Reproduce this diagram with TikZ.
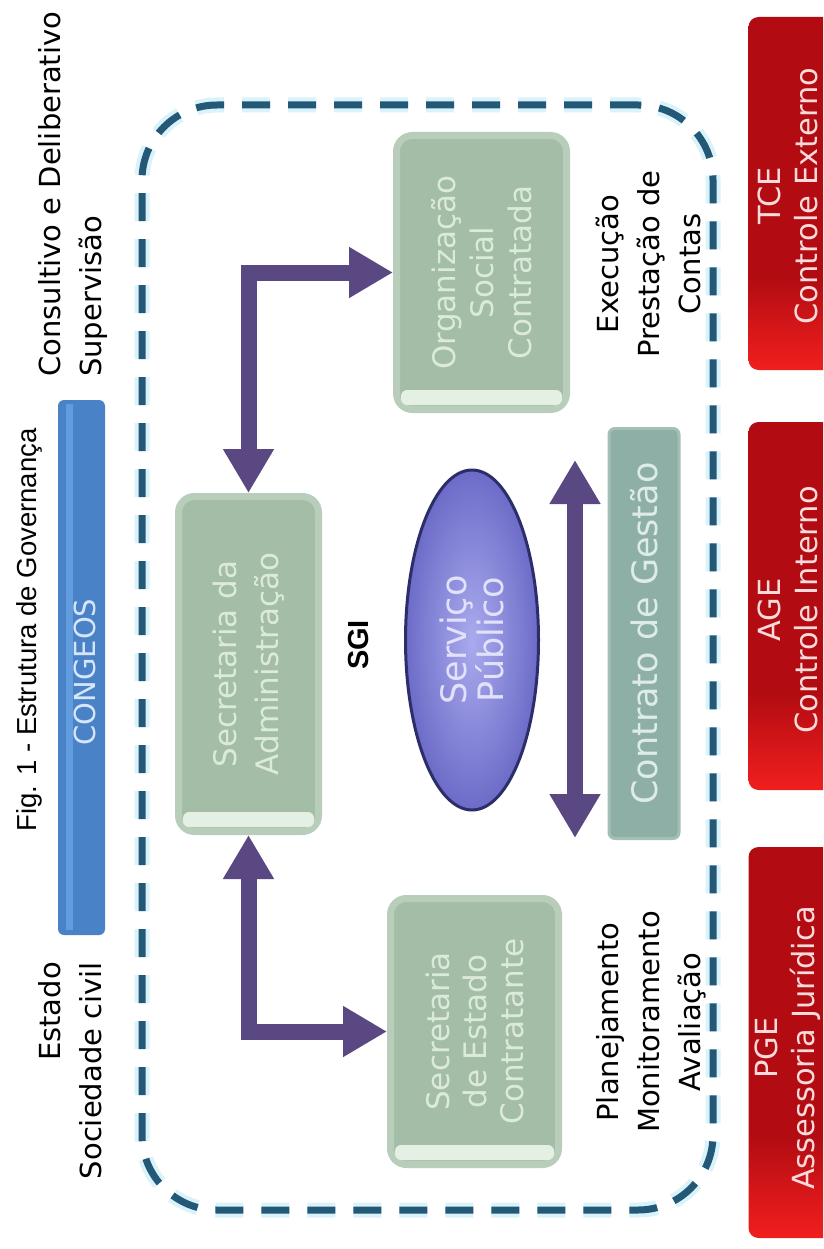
\documentclass[tikz,border=0pt]{standalone}
\usepackage{fontspec}
\setmainfont{DejaVu Sans}
\newfontfamily\arialf{Liberation Sans}
\usetikzlibrary{shapes.geometric,arrows.meta,calc}
\definecolor{dashblue}{RGB}{35,88,118}
\definecolor{glowc}{RGB}{218,242,250}
\definecolor{greenfill}{RGB}{164,189,167}
\definecolor{greenedge}{RGB}{184,206,186}
\definecolor{greenhi}{RGB}{228,240,228}
\definecolor{greentext}{RGB}{220,234,220}
\definecolor{contrfill}{RGB}{141,175,165}
\definecolor{contrtext}{RGB}{222,236,232}
\definecolor{purparr}{RGB}{90,72,130}
\definecolor{ellfill}{RGB}{108,108,200}
\definecolor{ellin}{RGB}{170,170,238}
\definecolor{elledge}{RGB}{45,45,105}
\definecolor{elltext}{RGB}{225,225,250}
\definecolor{congfill}{RGB}{74,130,200}
\definecolor{congstripe}{RGB}{96,156,222}
\definecolor{congtext}{RGB}{214,230,250}
\definecolor{reddark}{RGB}{178,12,18}
\definecolor{redbright}{RGB}{240,30,30}
\definecolor{redtext}{RGB}{250,218,218}
\pgfdeclareverticalshading{redglow}{100bp}{color(0bp)=(redbright); color(25bp)=(redbright); color(30bp)=(redbright!65!reddark); color(38bp)=(reddark); color(100bp)=(reddark)}
\begin{document}
\begin{tikzpicture}[x=1pt,y=1pt,
  lbl/.style={rotate=90, inner sep=0pt, font=\fontsize{29}{41}\selectfont, text=black},
  greenbox/.style={rotate=90, rounded corners=16pt, fill=greenfill, draw=greenedge, line width=7pt,
     text=greentext, align=center, font=\fontsize{31}{38}\selectfont, inner sep=0pt},
  redbox/.style={rotate=90, rounded corners=10pt, shading=redglow, shading angle=0,
     minimum height=87pt, inner sep=0pt},
  redlbl/.style={rotate=90, text=redtext, align=center, font=\fontsize{30.5}{37}\selectfont, inner sep=0pt},
  parrow/.style={draw=purparr, line width=16pt, line join=miter,
     {Triangle[width=48pt,length=44pt]}-{Triangle[width=48pt,length=44pt]}}
]
\clip (0,0) rectangle (823,-1249);
\fill[white] (0,0) rectangle (823,-1249);

% dashed SGI container
\node[draw=dashblue, line width=7pt, dash pattern=on 28pt off 18pt, rounded corners=75pt,
      minimum width=571pt, minimum height=1105pt,
      preaction={draw=glowc, line width=15pt}] (sgibox) at (427.5,-657.5) {};

% title and side labels
\node[lbl, anchor=base, font=\arialf\fontsize{27.5}{33}\selectfont] (title) at (36,-630)
  {Fig. 1 - Estrutura de Governança};
\node[lbl, align=left, anchor=north west] (consult) at (38,-377)
  {Consultivo e Deliberativo\\Supervisão};
\node[lbl, align=right, anchor=north east] (estado) at (38,-962)
  {Estado\\Sociedade civil};

% CONGEOS bar
\node[rotate=90, fill=congfill, rounded corners=6pt, minimum width=535pt, minimum height=47pt,
      inner sep=0pt] (congeos) at (81.5,-667.5) {};
\fill[congstripe] (66,-404) rectangle (73,-930);
\node[rotate=90, inner sep=0pt, text=congtext, font=\fontsize{29}{35}\selectfont] (congt) at (85,-672) {CONGEOS};

% green boxes
\node[greenbox, minimum width=274pt, minimum height=170pt] (org) at (481.5,-272.5)
  {Organização\\Social\\Contratada};
\node[greenbox, minimum width=335pt, minimum height=140pt, font=\fontsize{31}{42}\selectfont] (secadm) at (248.5,-664)
  {Secretaria da\\Administração};
\node[greenbox, minimum width=266pt, minimum height=168pt, font=\fontsize{31}{37}\selectfont] (secest) at (474.5,-1031.5)
  {Secretaria\\de Estado\\Contratante};
\fill[greenhi, rounded corners=6pt] (401,-390) rectangle (562,-405);
\fill[greenhi, rounded corners=6pt] (183,-812) rectangle (314,-827);
\fill[greenhi, rounded corners=6pt] (395,-1145) rectangle (554,-1160);

% SGI label
\node[rotate=90, inner sep=0pt, anchor=base, font=\arialf\bfseries\fontsize{29}{35}\selectfont] (sgi) at (368,-645) {SGI};

% Servico Publico ellipse
\node[rotate=90, ellipse, minimum width=340pt, minimum height=133pt, inner sep=0pt,
      inner color=ellin, outer color=ellfill, draw=elledge, line width=3pt,
      text=elltext, align=center, font=\fontsize{35}{37}\selectfont] (serv) at (472,-640)
  {Serviço\\Público};

% Contrato de Gestao bar
\node[rotate=90, fill=contrfill, draw=contrfill!80!white, line width=3pt, rounded corners=6pt,
      minimum width=410pt, minimum height=70pt, inner sep=0pt,
      text=contrtext, font=\fontsize{35}{38}\selectfont] (contr) at (644,-633.5) {Contrato de Gestão};

% arrows
\coordinate (dtop) at (575,-460);
\coordinate (dbot) at (575,-838);
\draw[parrow] (dtop) -- (dbot);
\draw[parrow] (org.north) -| (secadm.east);
\draw[parrow] (secadm.west) |- (secest.north);

% labels inside container
\node[lbl, align=center, anchor=north] (exec) at (596,-264)
  {Execução\\Prestação de\\Contas};
\node[lbl, align=center, anchor=north] (plan) at (596,-1022)
  {Planejamento\\Monitoramento\\Avaliação};

% red boxes
\node[redbox, minimum width=353pt] (tce) at (792,-193.5) {};
\node[redbox, minimum width=368pt] (age) at (792,-606) {};
\node[redbox, minimum width=391pt] (pge) at (792,-1042.5) {};
\node[redlbl] (tcet) at (788,-196) {TCE\\Controle Externo};
\node[redlbl] (aget) at (788,-610) {AGE\\Controle Interno};
\node[redlbl] (pget) at (788,-1048) {PGE\\Assessoria Jurídica};
\end{tikzpicture}
\end{document}
